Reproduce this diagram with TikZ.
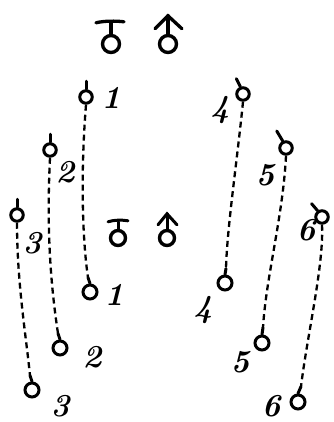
\documentclass[tikz,border=0pt]{standalone}
\usetikzlibrary{positioning}
\tikzset{
  pinhead/.style={circle,draw=black,line width=3pt,minimum size=12.5pt,inner sep=0pt},
  footring/.style={circle,draw=black,line width=3pt,minimum size=14pt,inner sep=0pt},
  signring/.style={circle,draw=black,line width=3.4pt,minimum size=15pt,inner sep=0pt},
  stroke/.style={draw=black,line width=3pt,line cap=round},
  tether/.style={draw=black,line width=2.3pt,dash pattern=on 6pt off 4pt},
  numlabel/.style={font=\fontsize{32}{32}\selectfont\bfseries\itshape,text=black,inner sep=0pt}
}
\begin{document}
\begin{tikzpicture}[x=1pt,y=-1pt]
  \useasboundingbox[fill=white] (0,0) rectangle (333,422);
  \node[signring,minimum size=17pt] (topcross) at (111,44) {};
  \node[signring,minimum size=17pt] (toparrow) at (168,44) {};
  \node[signring] (midcross) at (118,238) {};
  \node[signring] (midarrow) at (167,238) {};
  \draw[stroke,line width=3.3pt] (topcross.north) -- ++(0,-12) coordinate (topbar);
  \draw[stroke,line width=3.3pt] (topbar) ++(-15,1) .. controls +(8,-2) and +(-8,-1) .. ++(28,-1);
  \draw[stroke,line width=3.3pt] (toparrow.north) -- ++(0,-18) coordinate (toptip);
  \draw[stroke,line width=3.3pt] (toptip) ++(-13,13) -- (toptip) -- ++(14,13);
  \draw[stroke] (midcross.north) -- ++(0,-7) coordinate (midbar);
  \draw[stroke] (midbar) ++(-10,0) .. controls +(6,-2) and +(-6,-1) .. ++(20,-1);
  \draw[stroke] (midarrow.north) -- ++(0,-15) coordinate (midtip);
  \draw[stroke] (midtip) ++(-9,11) -- (midtip) -- ++(10,11);

  \node[pinhead] (t1) at (86,97) {};
  \node[pinhead] (t2) at (50,150) {};
  \node[pinhead] (t3) at (17,215) {};
  \node[pinhead] (t4) at (243,94) {};
  \node[pinhead] (t5) at (286,148) {};
  \node[pinhead] (t6) at (322,217) {};
  \draw[stroke] (t1.north) -- ++(0,-8);
  \draw[stroke] (t2.north) -- ++(0,-8);
  \draw[stroke] (t3.north) -- ++(0,-8);
  \draw[stroke] (t4.110) -- ++(-4,-8);
  \draw[stroke] (t5.115) -- ++(-6,-10);
  \draw[stroke] (t6.125) -- ++(-6,-7);

  \node[footring] (b1) at (90,292) {};
  \node[footring] (b2) at (60,348) {};
  \node[footring] (b3) at (32,390) {};
  \node[footring] (b4) at (225,283) {};
  \node[footring] (b5) at (262,343) {};
  \node[footring] (b6) at (298,402) {};
  \draw[stroke] (b1.north) -- ++(-2,-6) coordinate (b1tip);
  \draw[stroke] (b2.north) -- ++(-2,-6) coordinate (b2tip);
  \draw[stroke] (b3.north) -- ++(-2,-6) coordinate (b3tip);
  \draw[stroke] (b4.north) -- ++(1,-6) coordinate (b4tip);
  \draw[stroke] (b5.north) -- ++(1,-7) coordinate (b5tip);
  \draw[stroke] (b6.north) -- ++(3,-7) coordinate (b6tip);

  \draw[tether] (t1.south) .. controls +(-6,75) and +(-5,-33) .. (b1tip);
  \draw[tether] (t2.south) .. controls +(-4,80) and +(-6,-40) .. (b2tip);
  \draw[tether] (t3.south) .. controls +(0,60) and +(-4,-40) .. (b3tip);
  \draw[tether] (t4.south) .. controls +(-6,60) and +(1,-40) .. (b4tip);
  \draw[tether] (t5.south) .. controls +(-3,60) and +(3,-50) .. (b5tip);
  \draw[tether] (t6.south) .. controls +(2,40) and +(6,-50) .. (b6tip);

  \node[numlabel] (n1) at (111,98) {1};
  \node[numlabel] (n2) at (65,172) {2};
  \node[numlabel] (n3) at (32,243) {3};
  \node[numlabel] (n4) at (220,110) {4};
  \node[numlabel] (n5) at (265,175) {5};
  \node[numlabel] (n6) at (306,230) {6};
  \node[numlabel] (m1) at (114,295) {1};
  \node[numlabel] (m2) at (92,357) {2};
  \node[numlabel] (m3) at (60,406) {3};
  \node[numlabel] (m4) at (203,310) {4};
  \node[numlabel] (m5) at (240,362) {5};
  \node[numlabel] (m6) at (271,406) {6};
\end{tikzpicture}
\end{document}
